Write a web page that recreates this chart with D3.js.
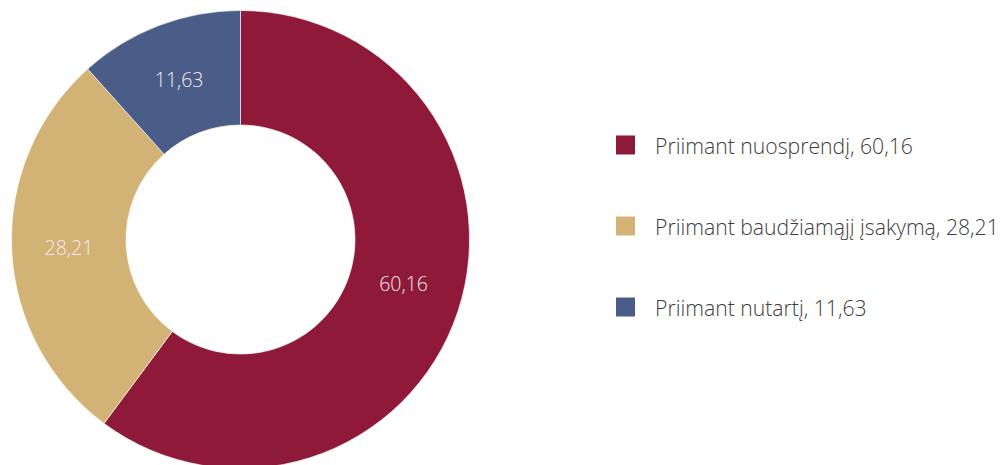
<!DOCTYPE html>
<html><head><meta charset="utf-8">
<script src="https://cdn.jsdelivr.net/npm/d3@7"></script>
<style>html,body{margin:0;padding:0;background:#fff;}svg{display:block;}</style>
</head><body>
<svg id="c" width="1008" height="465"></svg>
<script>
const categories = ["Priimant nuosprendį", "Priimant baudžiamąjį įsakymą", "Priimant nutartį"];
const values = [60.16, 28.21, 11.63];
const labels = ["60,16", "28,21", "11,63"];
const colors = ["#8e1938", "#d3b276", "#4a5d88"];

const svg = d3.select("#c");
const cx = 240.5, cy = 239.5, rOuter = 229, rInner = 114.5;
const g = svg.append("g").attr("transform", `translate(${cx},${cy})`);
const pie = d3.pie().sort(null).value(d => d)(values);
const arc = d3.arc().innerRadius(rInner).outerRadius(rOuter);
const labelArc = d3.arc().innerRadius(rInner).outerRadius(rOuter);

g.selectAll("path").data(pie).join("path")
  .attr("d", arc).attr("fill", (d,i) => colors[i])
  .attr("stroke", "#fff").attr("stroke-width", 0.6);

const font = "'Open Sans', 'Noto Sans', sans-serif";
g.selectAll("text.lbl").data(pie).join("text").attr("class","lbl")
  .attr("transform", d => `translate(${labelArc.centroid(d)})`)
  .attr("text-anchor", "middle").attr("dominant-baseline", "central")
  .attr("dy", (d,i) => i === 0 ? -10 : 0)
  .attr("font-family", font).attr("font-size", 19.5).attr("font-weight", 300)
  .attr("fill", "#f3e9eb").text((d,i) => labels[i]);

const y = d3.scalePoint().domain(categories).range([145, 307]);
const lg = svg.append("g");
lg.selectAll("rect").data(categories).join("rect")
  .attr("x", 616).attr("y", d => y(d) - 9.5).attr("width", 19).attr("height", 19)
  .attr("fill", (d,i) => colors[i]);
lg.selectAll("text").data(categories).join("text")
  .attr("x", 655).attr("y", d => y(d)).attr("dominant-baseline", "central")
  .attr("font-family", font).attr("font-size", 21.2).attr("font-weight", 300)
  .attr("fill", "#3d3d3d").text((d,i) => `${d}, ${labels[i]}`);
</script>
</body></html>
